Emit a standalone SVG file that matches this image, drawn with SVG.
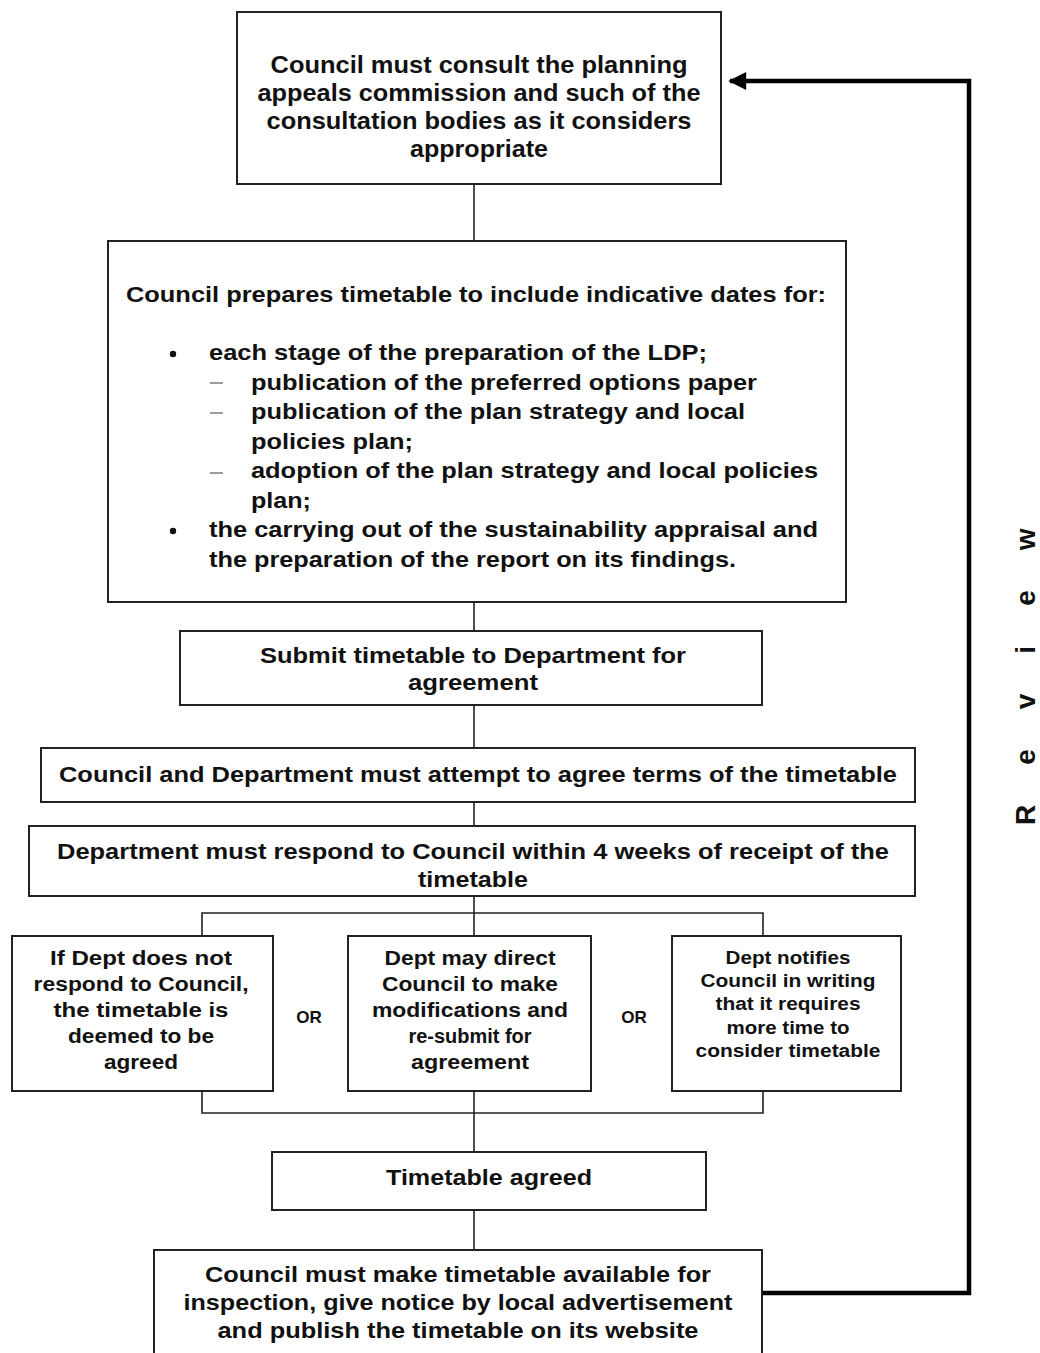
<svg xmlns="http://www.w3.org/2000/svg" width="1040" height="1353" viewBox="0 0 1040 1353">
<style>
  .box { fill: #ffffff; stroke: #222222; stroke-width: 2; }
  .t { font-family: "Liberation Sans", Arial, sans-serif; font-weight: bold; fill: #111111; }
  .c { text-anchor: middle; }
  .f24 { font-size: 24px; }
  .f22 { font-size: 22px; }
  .f20 { font-size: 20px; }
  .f18 { font-size: 18px; }
  .f17 { font-size: 17px; }
  .conn { fill: none; stroke: #222222; stroke-width: 1.6; }
  .review { fill: none; stroke: #000000; stroke-width: 4.5; stroke-linejoin: miter; }
  .dash { stroke: #9a9a9a; stroke-width: 2; }
</style>
<defs>
  <marker id="arrow" viewBox="0 0 10 10" refX="9" refY="5" markerWidth="4.4" markerHeight="4" orient="auto" markerUnits="strokeWidth">
    <path d="M0,0 L10,5 L0,10 Z" fill="#000000"/>
  </marker>
</defs>
<rect width="1040" height="1353" fill="#ffffff"/>

<g id="connectors">
  <line class="conn" x1="474" y1="184" x2="474" y2="241"/>
  <line class="conn" x1="474" y1="602" x2="474" y2="631"/>
  <line class="conn" x1="474" y1="705" x2="474" y2="748"/>
  <line class="conn" x1="474" y1="802" x2="474" y2="826"/>
  <line class="conn" x1="474" y1="896" x2="474" y2="913"/>
  <polyline class="conn" points="202,936 202,913 763,913 763,936"/>
  <line class="conn" x1="474" y1="913" x2="474" y2="936"/>
  <polyline class="conn" points="202,1091 202,1113 763,1113 763,1091"/>
  <line class="conn" x1="474" y1="1091" x2="474" y2="1152"/>
  <line class="conn" x1="474" y1="1210" x2="474" y2="1250"/>
  <path class="review" d="M762,1293 H969 V81 H730" marker-end="url(#arrow)"/>
</g>

<g id="node-consult">
  <rect class="box" x="237" y="12" width="484" height="172"/>
  <text class="t c f24" x="479" y="72.5" textLength="417" lengthAdjust="spacingAndGlyphs">Council must consult the planning</text>
  <text class="t c f24" x="479" y="100.5" textLength="443" lengthAdjust="spacingAndGlyphs">appeals commission and such of the</text>
  <text class="t c f24" x="479" y="129" textLength="425" lengthAdjust="spacingAndGlyphs">consultation bodies as it considers</text>
  <text class="t c f24" x="479" y="157" textLength="138" lengthAdjust="spacingAndGlyphs">appropriate</text>
</g>

<g id="node-prepare">
  <rect class="box" x="108" y="241" width="738" height="361"/>
  <text class="t f22" x="126" y="301.5" textLength="700" lengthAdjust="spacingAndGlyphs">Council prepares timetable to include indicative dates for:</text>
  <circle cx="173" cy="354" r="3.2" fill="#111111"/>
  <text class="t f22" x="209" y="360" textLength="498" lengthAdjust="spacingAndGlyphs">each stage of the preparation of the LDP;</text>
  <line class="dash" x1="210" y1="383" x2="223" y2="383"/>
  <text class="t f22" x="251" y="389.5" textLength="506" lengthAdjust="spacingAndGlyphs">publication of the preferred options paper</text>
  <line class="dash" x1="210" y1="413" x2="223" y2="413"/>
  <text class="t f22" x="251" y="419" textLength="494" lengthAdjust="spacingAndGlyphs">publication of the plan strategy and local</text>
  <text class="t f22" x="251" y="448.5" textLength="162" lengthAdjust="spacingAndGlyphs">policies plan;</text>
  <line class="dash" x1="210" y1="473" x2="223" y2="473"/>
  <text class="t f22" x="251" y="478" textLength="567" lengthAdjust="spacingAndGlyphs">adoption of the plan strategy and local policies</text>
  <text class="t f22" x="251" y="507.5" textLength="60" lengthAdjust="spacingAndGlyphs">plan;</text>
  <circle cx="173" cy="531" r="3.2" fill="#111111"/>
  <text class="t f22" x="209" y="537" textLength="609" lengthAdjust="spacingAndGlyphs">the carrying out of the sustainability appraisal and</text>
  <text class="t f22" x="209" y="566.5" textLength="527" lengthAdjust="spacingAndGlyphs">the preparation of the report on its findings.</text>
</g>

<g id="node-submit">
  <rect class="box" x="180" y="631" width="582" height="74"/>
  <text class="t c f22" x="473" y="663" textLength="426" lengthAdjust="spacingAndGlyphs">Submit timetable to Department for</text>
  <text class="t c f22" x="473" y="690" textLength="130" lengthAdjust="spacingAndGlyphs">agreement</text>
</g>

<g id="node-attempt">
  <rect class="box" x="41" y="748" width="874" height="54"/>
  <text class="t c f22" x="478" y="781.5" textLength="838" lengthAdjust="spacingAndGlyphs">Council and Department must attempt to agree terms of the timetable</text>
</g>

<g id="node-respond">
  <rect class="box" x="29" y="826" width="886" height="70"/>
  <text class="t c f22" x="473" y="859" textLength="832" lengthAdjust="spacingAndGlyphs">Department must respond to Council within 4 weeks of receipt of the</text>
  <text class="t c f22" x="473" y="886.5" textLength="110" lengthAdjust="spacingAndGlyphs">timetable</text>
</g>

<g id="node-deemed">
  <rect class="box" x="12" y="936" width="261" height="155"/>
  <text class="t c f20" x="141" y="965" textLength="182" lengthAdjust="spacingAndGlyphs">If Dept does not</text>
  <text class="t c f20" x="141" y="991" textLength="215" lengthAdjust="spacingAndGlyphs">respond to Council,</text>
  <text class="t c f20" x="141" y="1017" textLength="175" lengthAdjust="spacingAndGlyphs">the timetable is</text>
  <text class="t c f20" x="141" y="1043" textLength="146" lengthAdjust="spacingAndGlyphs">deemed to be</text>
  <text class="t c f20" x="141" y="1069" textLength="74" lengthAdjust="spacingAndGlyphs">agreed</text>
</g>

<text class="t c f17" x="309" y="1022.5">OR</text>

<g id="node-modify">
  <rect class="box" x="348" y="936" width="243" height="155"/>
  <text class="t c f20" x="470" y="965" textLength="171" lengthAdjust="spacingAndGlyphs">Dept may direct</text>
  <text class="t c f20" x="470" y="991" textLength="176" lengthAdjust="spacingAndGlyphs">Council to make</text>
  <text class="t c f20" x="470" y="1017" textLength="196" lengthAdjust="spacingAndGlyphs">modifications and</text>
  <text class="t c f20" x="470" y="1043" textLength="123" lengthAdjust="spacingAndGlyphs">re-submit for</text>
  <text class="t c f20" x="470" y="1069" textLength="118" lengthAdjust="spacingAndGlyphs">agreement</text>
</g>

<text class="t c f17" x="634" y="1022.5">OR</text>

<g id="node-moretime">
  <rect class="box" x="672" y="936" width="229" height="155"/>
  <text class="t c f18" x="788" y="964" textLength="125" lengthAdjust="spacingAndGlyphs">Dept notifies</text>
  <text class="t c f18" x="788" y="987" textLength="175" lengthAdjust="spacingAndGlyphs">Council in writing</text>
  <text class="t c f18" x="788" y="1010" textLength="145" lengthAdjust="spacingAndGlyphs">that it requires</text>
  <text class="t c f18" x="788" y="1033.5" textLength="123" lengthAdjust="spacingAndGlyphs">more time to</text>
  <text class="t c f18" x="788" y="1057" textLength="185" lengthAdjust="spacingAndGlyphs">consider timetable</text>
</g>

<g id="node-agreed">
  <rect class="box" x="272" y="1152" width="434" height="58"/>
  <text class="t c f22" x="489" y="1185" textLength="206" lengthAdjust="spacingAndGlyphs">Timetable agreed</text>
</g>

<g id="node-publish">
  <rect class="box" x="154" y="1250" width="608" height="120"/>
  <text class="t c f22" x="458" y="1281.5" textLength="506" lengthAdjust="spacingAndGlyphs">Council must make timetable available for</text>
  <text class="t c f22" x="458" y="1310" textLength="549" lengthAdjust="spacingAndGlyphs">inspection, give notice by local advertisement</text>
  <text class="t c f22" x="458" y="1338" textLength="481" lengthAdjust="spacingAndGlyphs">and publish the timetable on its website</text>
</g>

<g id="label-review">
  <text class="t" font-size="28" letter-spacing="40" transform="translate(1035,825) rotate(-90)" x="0" y="0">Review</text>
</g>
</svg>
